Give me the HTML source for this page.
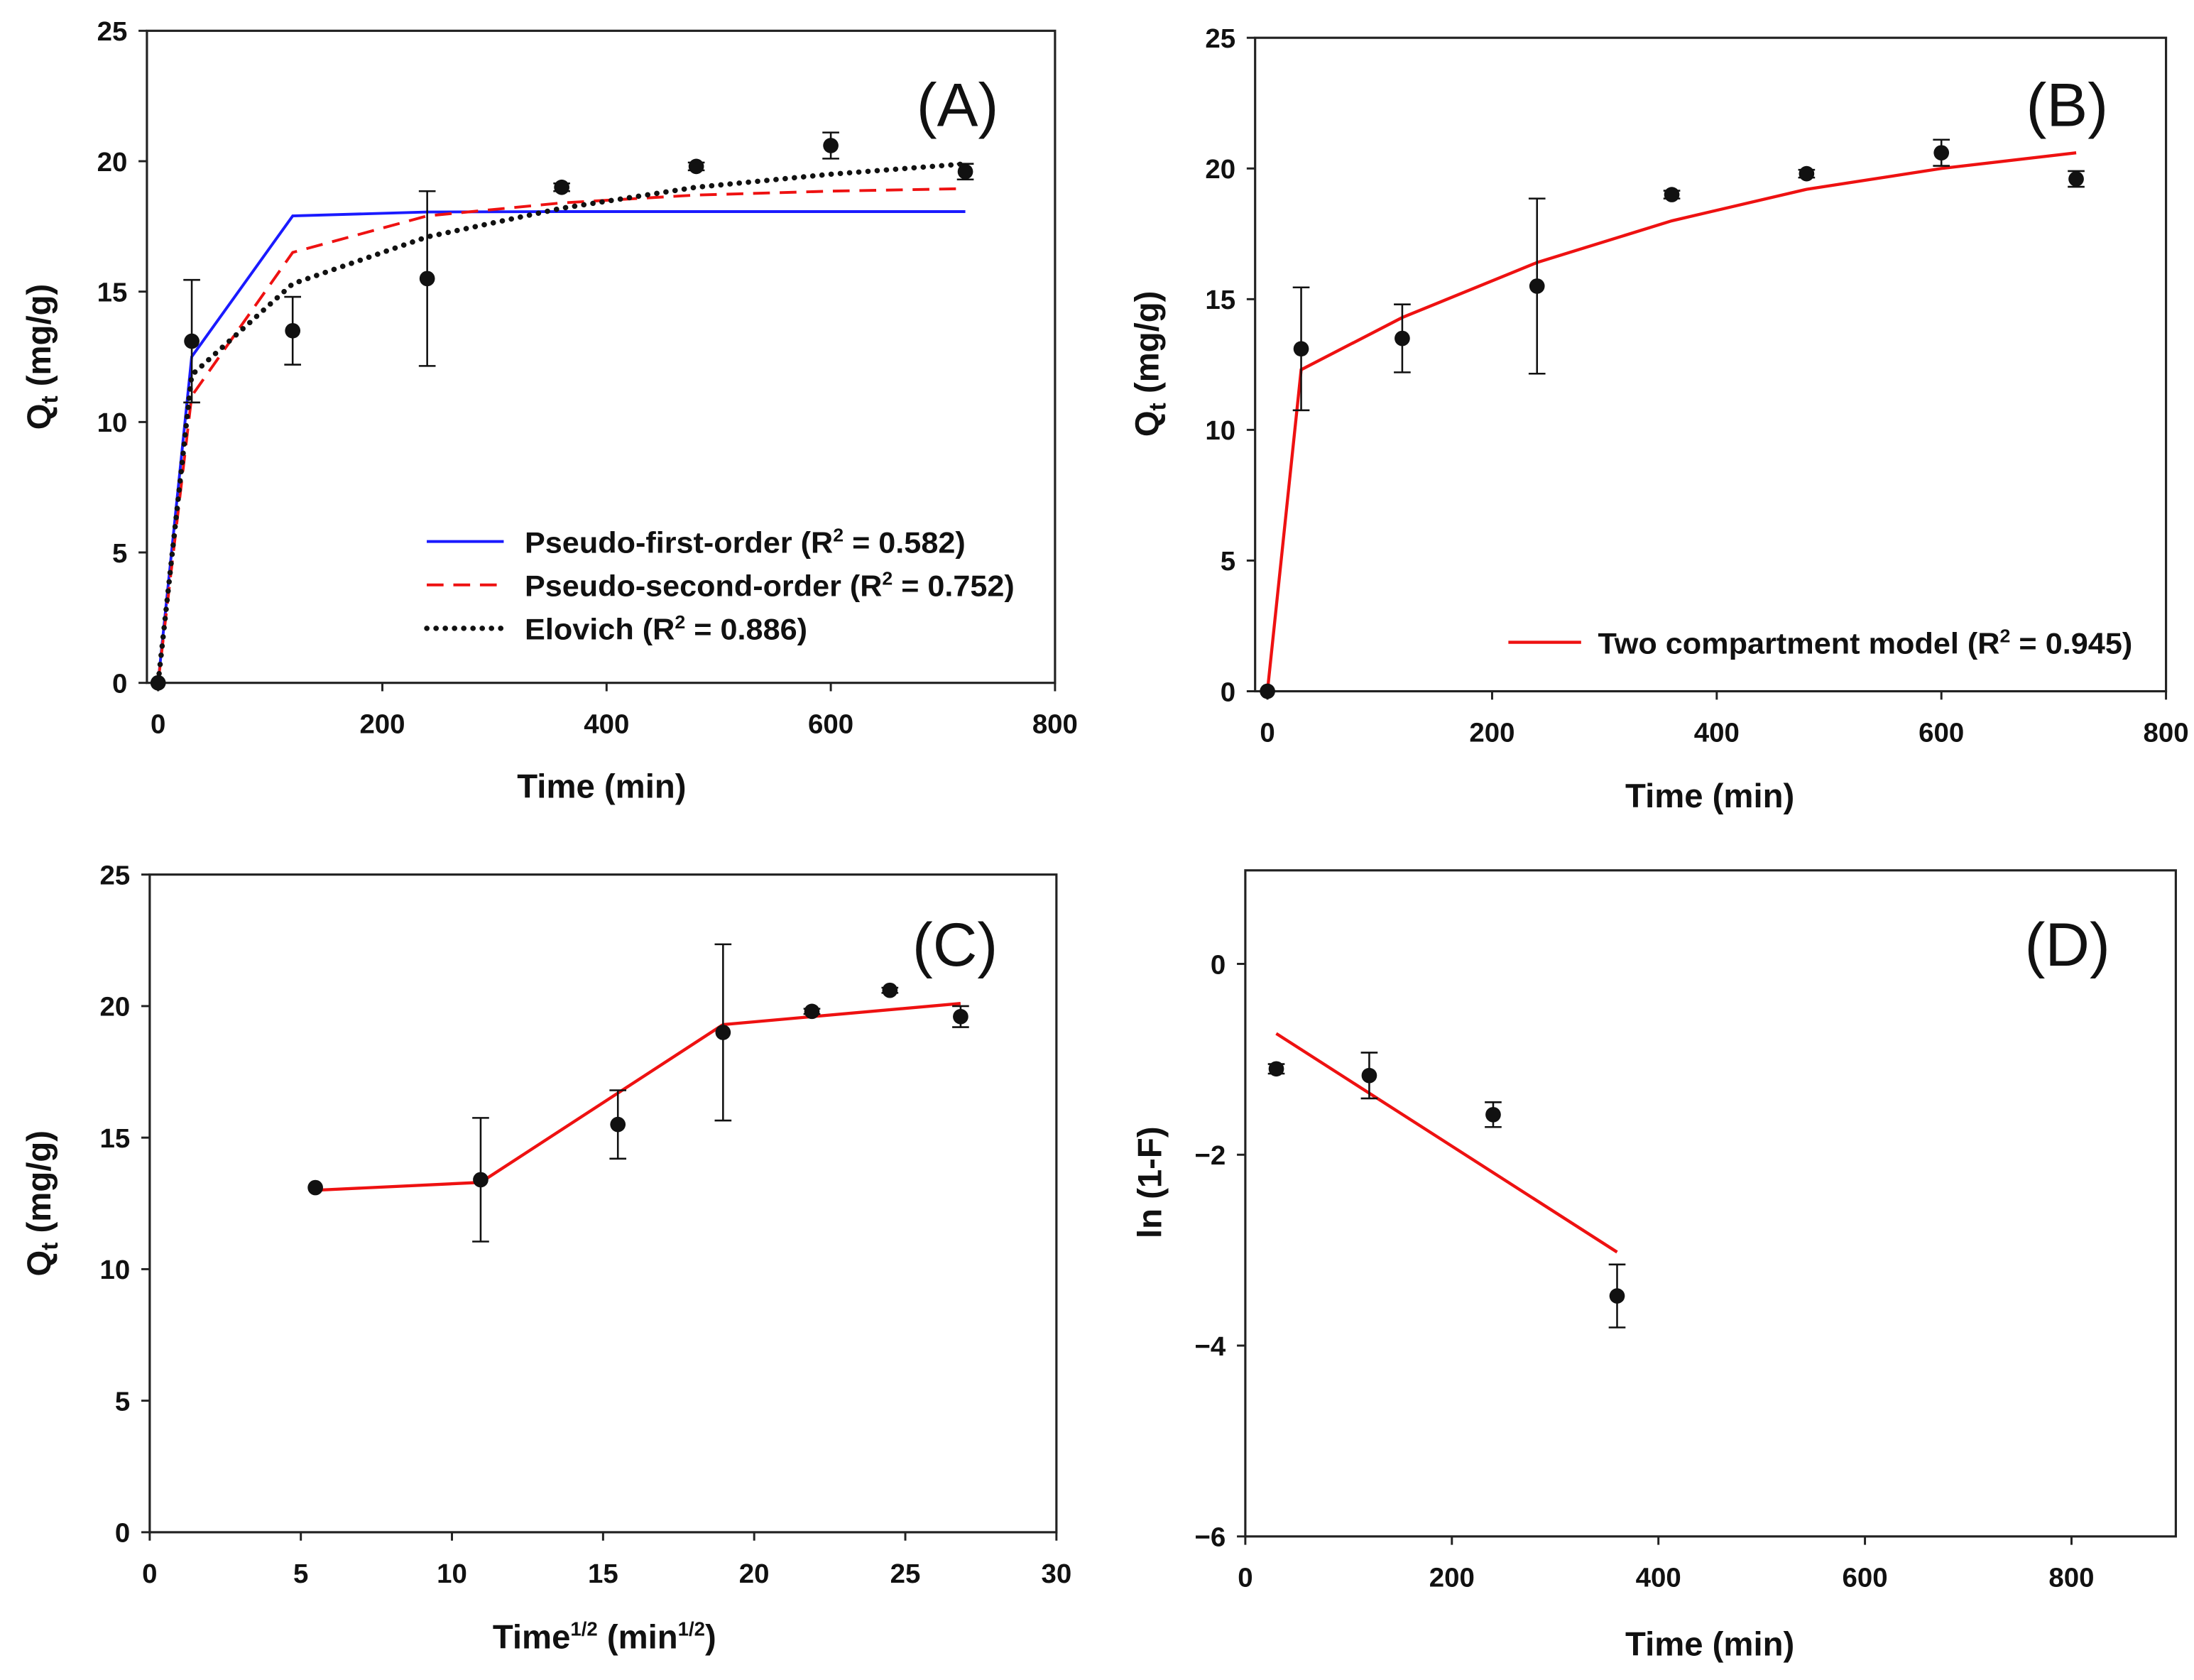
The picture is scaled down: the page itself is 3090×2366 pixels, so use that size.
<!DOCTYPE html>
<html><head><meta charset="utf-8"><style>
html,body{margin:0;padding:0;background:#fff;}
svg{display:block;}
text{font-family:"Liberation Sans",Arial,sans-serif;}
.tk{font-size:19.5px;font-weight:bold;fill:#111;}
.ax{font-size:24px;font-weight:bold;fill:#111;}
.pl{font-size:44px;fill:#111;}
.lg{font-size:21px;font-weight:bold;fill:#111;}
</style></head><body>
<svg id="fig" width="3090" height="2366" viewBox="0 0 1568 1200.6" preserveAspectRatio="none" xmlns="http://www.w3.org/2000/svg"></svg>
<script>
// Panel A data
const timeA = [0,30,120,240,360,480,600,720];
const qA = [0,13.1,13.5,15.5,19.0,19.8,20.6,19.6];
const errA = [0,2.35,1.3,3.35,0.15,0.15,0.5,0.3];
const pfoA = [0,12.5,17.9,18.05,18.07,18.07,18.07,18.07];
const psoA = [0,11.0,16.5,17.9,18.4,18.7,18.85,18.95];
const eloA = [0,11.8,15.3,17.1,18.2,19.0,19.5,19.9];
// Panel B data
const twoCompB = [0,12.3,14.3,16.4,18.0,19.2,20.0,20.6];
// Panel C data
const sqrtTC = [5.48,10.95,15.49,18.97,21.91,24.49,26.83];
const qC = [13.1,13.4,15.5,19.0,19.8,20.6,19.6];
const errC = [0,2.35,1.3,3.35,0.1,0.1,0.4];
const lineXC = [5.48,10.95,18.97,26.83];
const lineYC = [13.0,13.3,19.3,20.1];
// Panel D data
const timeD = [30,120,240,360];
const lnD = [-1.1,-1.17,-1.58,-3.48];
const errD = [0.05,0.24,0.13,0.33];
const lineXD = [30,360];
const lineYD = [-0.73,-3.02];
// ticks
const ticksTime = [0,200,400,600,800];
const ticksQ = [0,5,10,15,20,25];
const ticksSqrt = [0,5,10,15,20,25,30];
const ticksLn = [0,-2,-4,-6];

const svg = document.getElementById('fig');
const NS = 'http://www.w3.org/2000/svg';
function mk(tag, attrs, parent){const e=document.createElementNS(NS,tag);for(const k in attrs)e.setAttribute(k,attrs[k]);(parent||svg).appendChild(e);return e;}

function panel(id, box, xd, yd, xt, yt){
  const g = mk('g',{});
  
  
  const sx = v => box.x0 + (v - xd[0])/(xd[1]-xd[0])*(box.x1-box.x0);
  const sy = v => box.y1 - (v - yd[0])/(yd[1]-yd[0])*(box.y1-box.y0);
  const r = mk('rect',{x:box.x0,y:box.y0,width:box.x1-box.x0,height:box.y1-box.y0,fill:'none',stroke:'#222','stroke-width':1.6},g);
  
  
  xt.forEach(v=>{
    const x=sx(v);
    mk('line',{x1:x,x2:x,y1:box.y1,y2:box.y1+6,stroke:'#222','stroke-width':1.5},g);
    const t=mk('text',{x:x,y:box.y1+36,'text-anchor':'middle',class:'tk'},g);t.textContent=v;
    
    
  });
  yt.forEach(v=>{
    const y=sy(v);
    mk('line',{x1:box.x0-6,x2:box.x0,y1:y,y2:y,stroke:'#222','stroke-width':1.5},g);
    const t=mk('text',{x:box.x0-14,y:y+7,'text-anchor':'end',class:'tk'},g);t.textContent=(v<0?'\u2212'+(-v):v);
    
    
  });
  return {g,sx,sy};
}
function line(p, xs, ys, attrs, name){
  const d = xs.map((x,i)=>(i?'L':'M')+p.sx(x).toFixed(1)+','+p.sy(ys[i]).toFixed(1)).join(' ');
  const e = mk('path', Object.assign({d:d,fill:'none'},attrs), p.g);
  
  
}
function points(p, xs, ys, es, name){
  xs.forEach((x,i)=>{
    const cx=p.sx(x), cy=p.sy(ys[i]);
    if(es[i]>0){
      const a=p.sy(ys[i]+es[i]), b=p.sy(ys[i]-es[i]);
      const eb=mk('path',{d:`M${cx},${a} L${cx},${b} M${cx-6},${a} L${cx+6},${a} M${cx-6},${b} L${cx+6},${b}`,stroke:'#111','stroke-width':1.3,fill:'none'},p.g);
      
      
    }
    const c=mk('circle',{cx:cx,cy:cy,r:5.5,fill:'#111'},p.g);
    
    
  });
}
function txt(p, x, y, s, cls, extra, name){
  const t=mk('text',Object.assign({x:x,y:y,class:cls},extra||{}),p.g);
  t.innerHTML=s;
  
  
  return t;
}
function qtitle(p, x, y){
  txt(p,0,0,'Q<tspan font-size="17" dy="5">t</tspan><tspan dy="-5"> (mg/g)</tspan>','ax',{transform:`translate(${x},${y}) rotate(-90)`,'text-anchor':'middle'},'y-axis-title');
}
const ELO = {stroke:'#111','stroke-width':3.8,'stroke-dasharray':'0.1,6.5','stroke-linecap':'round'};

// Panel A
const A = panel('a',{x0:105,x1:754,y0:22,y1:488},[-10,800],[0,25],ticksTime,ticksQ);
line(A,timeA,pfoA,{stroke:'#1a1aff','stroke-width':2},'pfo-line');
line(A,timeA,psoA,{stroke:'#ee1111','stroke-width':2,'stroke-dasharray':'12,7'},'pso-line');
line(A,timeA,eloA,ELO,'elovich-line');
points(A,timeA,qA,errA,'data-point');
txt(A,655,90,'(A)','pl',{},'panel-label');
txt(A,430,570,'Time (min)','ax',{'text-anchor':'middle'},'x-axis-title');
qtitle(A,36,255);
mk('line',{x1:305,x2:360,y1:387,y2:387,stroke:'#1a1aff','stroke-width':2},A.g);
txt(A,375,395,'Pseudo-first-order (R<tspan font-size="13" dy="-8">2</tspan><tspan dy="8"> = 0.582)</tspan>','lg',{textLength:315,lengthAdjust:'spacingAndGlyphs'},'legend-entry-pfo');
mk('line',{x1:305,x2:360,y1:418,y2:418,stroke:'#ee1111','stroke-width':2,'stroke-dasharray':'12,7'},A.g);
txt(A,375,426,'Pseudo-second-order (R<tspan font-size="13" dy="-8">2</tspan><tspan dy="8"> = 0.752)</tspan>','lg',{textLength:350,lengthAdjust:'spacingAndGlyphs'},'legend-entry-pso');
mk('line',Object.assign({x1:305,x2:360,y1:449,y2:449},ELO),A.g);
txt(A,375,457,'Elovich (R<tspan font-size="13" dy="-8">2</tspan><tspan dy="8"> = 0.886)</tspan>','lg',{textLength:202,lengthAdjust:'spacingAndGlyphs'},'legend-entry-elovich');

// Panel B
const B = panel('b',{x0:897,x1:1548,y0:27,y1:494},[-11,800],[0,25],ticksTime,ticksQ);
line(B,timeA,twoCompB,{stroke:'#ee1111','stroke-width':2.2},'two-compartment-line');
points(B,timeA,qA,errA,'data-point');
txt(B,1448,90,'(B)','pl',{},'panel-label');
txt(B,1222,577,'Time (min)','ax',{'text-anchor':'middle'},'x-axis-title');
qtitle(B,828,260);
mk('line',{x1:1078,x2:1130,y1:459,y2:459,stroke:'#ee1111','stroke-width':2.2},B.g);
txt(B,1142,467,'Two compartment model (R<tspan font-size="13" dy="-8">2</tspan><tspan dy="8"> = 0.945)</tspan>','lg',{textLength:382,lengthAdjust:'spacingAndGlyphs'},'legend-entry-two-compartment');

// Panel C
const C = panel('c',{x0:107,x1:755,y0:625,y1:1095},[0,30],[0,25],ticksSqrt,ticksQ);
line(C,lineXC,lineYC,{stroke:'#ee1111','stroke-width':2.2},'intraparticle-line');
points(C,sqrtTC,qC,errC,'data-point');
txt(C,652,690,'(C)','pl',{},'panel-label');
txt(C,432,1178,'Time<tspan font-size="14" dy="-9">1/2</tspan><tspan dy="9"> (min</tspan><tspan font-size="14" dy="-9">1/2</tspan><tspan dy="9">)</tspan>','ax',{'text-anchor':'middle'},'x-axis-title');
qtitle(C,36,860);

// Panel D
const D = panel('d',{x0:890,x1:1555,y0:622,y1:1098},[0,901],[-6,0.98],ticksTime,ticksLn);
line(D,lineXD,lineYD,{stroke:'#ee1111','stroke-width':2.2},'liquid-film-line');
points(D,timeD,lnD,errD,'data-point');
txt(D,1447,690,'(D)','pl',{},'panel-label');
txt(D,1222,1183,'Time (min)','ax',{'text-anchor':'middle'},'x-axis-title');
txt(D,0,0,'ln (1-F)','ax',{transform:'translate(830,845) rotate(-90)','text-anchor':'middle'},'y-axis-title');
</script>
</body></html>
